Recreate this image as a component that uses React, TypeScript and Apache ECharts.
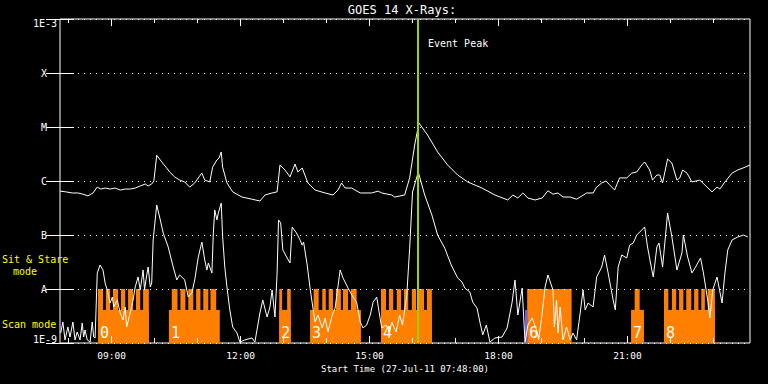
import React, { useEffect, useRef } from 'react';
import * as echarts from 'echarts';

const startTime = '07:48';
const axisEndMin = 963;
const majorTickLabels = ['09:00', '12:00', '15:00', '18:00', '21:00'];
const yTickLabels = ['1E-9', 'A', 'B', 'C', 'M', 'X', '1E-3'];
const eventPeakTime = '16:07';
const xAxisTitle = 'Start Time (27-Jul-11 07:48:00)';
const chartTitle = 'GOES 14 X-Rays:';

// long channel (1-8 A): minutes after start, flux W/m^2
const longMin = [0, 8, 17, 25, 32, 39, 46, 52, 57, 63, 70, 77, 84, 91, 98, 105, 112, 119, 123, 128, 131, 135, 142, 148, 153, 160, 167, 174, 181, 188, 194, 198, 202, 209, 213, 219, 222, 225, 227, 233, 241, 254, 268, 279, 286, 296, 303, 307, 314, 321, 328, 332, 338, 346, 356, 370, 381, 388, 393, 398, 407, 419, 435, 444, 449, 463, 467, 481, 488, 495, 501, 506, 513, 527, 541, 555, 569, 589, 607, 625, 632, 639, 646, 653, 663, 673, 681, 688, 695, 702, 712, 721, 735, 744, 749, 756, 762, 767, 774, 781, 791, 798, 805, 812, 816, 823, 827, 833, 837, 841, 848, 854, 861, 865, 869, 875, 882, 893, 903, 910, 917, 921, 928, 938, 946, 956, 963];
const longFlux = [6.5e-7, 6.3e-7, 6.0e-7, 6.0e-7, 5.7e-7, 5.3e-7, 6.0e-7, 7.7e-7, 7.1e-7, 7.4e-7, 7.1e-7, 7.4e-7, 6.8e-7, 7.1e-7, 7.1e-7, 7.4e-7, 8.1e-7, 8.8e-7, 8.1e-7, 8.8e-7, 1.0e-6, 3.0e-6, 2.25e-6, 1.8e-6, 1.47e-6, 1.19e-6, 1.04e-6, 9.6e-7, 7.7e-7, 9.2e-7, 1.19e-6, 1.4e-6, 1.04e-6, 9.6e-7, 1.8e-6, 2.45e-6, 2.67e-6, 3.45e-6, 1.8e-6, 9.2e-7, 6.3e-7, 5.05e-7, 4.6e-7, 4.26e-7, 5.5e-7, 6.0e-7, 6.3e-7, 1.98e-6, 1.6e-6, 1.19e-6, 2.06e-6, 1.47e-6, 1.74e-6, 9.2e-7, 6.8e-7, 6.0e-7, 5.5e-7, 6.8e-7, 9.2e-7, 7.4e-7, 7.4e-7, 6.0e-7, 6.0e-7, 6.5e-7, 6.0e-7, 5.5e-7, 5.05e-7, 5.5e-7, 1.14e-6, 4.64e-6, 1.19e-5, 9.6e-6, 7.1e-6, 3.45e-6, 1.98e-6, 1.29e-6, 9.6e-7, 7.4e-7, 5.5e-7, 4.45e-7, 5.5e-7, 4.85e-7, 6.0e-7, 4.85e-7, 4.45e-7, 4.85e-7, 6.6e-7, 5.7e-7, 6.0e-7, 5.05e-7, 5.05e-7, 4.6e-7, 6.0e-7, 6.0e-7, 7.7e-7, 9.2e-7, 1.0e-6, 8.5e-7, 6.8e-7, 1.14e-6, 1.14e-6, 1.4e-6, 1.47e-6, 1.98e-6, 2.25e-6, 1.6e-6, 1.04e-6, 1.29e-6, 1.29e-6, 9.2e-7, 2.55e-6, 2.15e-6, 1.04e-6, 1.14e-6, 1.6e-6, 1.4e-6, 9.6e-7, 1.04e-6, 7.7e-7, 6.3e-7, 7.7e-7, 7.1e-7, 9.6e-7, 1.4e-6, 1.6e-6, 1.8e-6, 1.98e-6];

// short channel (0.5-4 A)
const shortMin = [1, 4, 7, 11, 14, 18, 21, 24, 28, 31, 33, 35, 38, 42, 45, 47, 49, 52, 56, 60, 63, 66, 68, 70, 73, 75, 80, 84, 88, 91, 93, 98, 102, 105, 109, 112, 116, 118, 120, 123, 126, 128, 130, 135, 140, 144, 151, 158, 163, 167, 170, 174, 179, 184, 188, 193, 198, 202, 205, 207, 212, 214, 216, 219, 221, 225, 227, 230, 233, 237, 241, 247, 251, 258, 268, 272, 279, 283, 289, 293, 296, 300, 303, 305, 308, 311, 317, 321, 324, 330, 335, 338, 340, 345, 349, 353, 356, 360, 366, 370, 374, 380, 384, 391, 395, 402, 405, 409, 414, 419, 423, 428, 433, 437, 442, 446, 449, 455, 460, 463, 469, 474, 478, 484, 488, 492, 500, 509, 519, 527, 537, 546, 555, 561, 565, 572, 576, 582, 586, 590, 595, 600, 607, 617, 624, 631, 635, 639, 645, 649, 653, 659, 666, 668, 673, 677, 681, 688, 690, 693, 695, 698, 702, 707, 712, 716, 721, 726, 730, 733, 737, 744, 749, 756, 760, 765, 772, 775, 779, 784, 791, 795, 800, 805, 812, 816, 820, 826, 828, 833, 836, 841, 848, 854, 861, 868, 870, 876, 882, 887, 894, 898, 904, 907, 911, 917, 924, 928, 932, 938, 946, 954, 960];
const shortFlux = [1.53e-9, 2.45e-9, 1.14e-9, 1.98e-9, 1.29e-9, 2.45e-9, 1.14e-9, 1.6e-9, 1.14e-9, 2.35e-9, 1.29e-9, 1.74e-9, 1.14e-9, 1.04e-9, 2.45e-9, 1.29e-9, 1.24e-9, 1.98e-8, 2.78e-8, 2.25e-8, 1.29e-8, 9.6e-9, 7.1e-9, 5.5e-9, 7.1e-9, 4.64e-9, 6.25e-9, 3.59e-9, 2.67e-9, 4.64e-9, 1.98e-9, 3.59e-9, 6.25e-9, 1.09e-8, 1.67e-8, 9.6e-9, 2.25e-8, 9.6e-9, 1.47e-8, 2.55e-8, 1.09e-8, 1.29e-8, 8.1e-8, 3.59e-7, 1.9e-7, 1.09e-7, 6.0e-8, 2.55e-8, 1.47e-8, 1.82e-8, 1.67e-8, 1.47e-8, 7.1e-9, 8.4e-9, 1.47e-8, 3.9e-8, 7.4e-8, 3.45e-8, 2.25e-8, 3.03e-8, 1.98e-8, 1.09e-7, 2.9e-7, 1.9e-7, 2.55e-7, 3.9e-7, 9.2e-8, 2.55e-8, 1.09e-8, 4.1e-9, 1.98e-9, 1.53e-9, 1.04e-9, 1.14e-9, 1.24e-9, 1.04e-9, 3.59e-9, 6.25e-9, 3.03e-9, 4.64e-9, 9.6e-9, 3.03e-9, 1.98e-8, 1.9e-7, 1.67e-7, 5.3e-8, 3.75e-8, 3.03e-8, 1.41e-7, 1.09e-7, 8.1e-8, 6.5e-8, 7.4e-8, 2.78e-8, 1.04e-8, 4.44e-9, 2.45e-9, 3.3e-9, 1.9e-9, 2.9e-9, 1.6e-9, 3.3e-9, 4.44e-9, 2.25e-8, 1.6e-8, 1.04e-8, 8.8e-9, 7.1e-9, 5.7e-9, 2.45e-9, 1.9e-9, 2.15e-9, 3.3e-9, 5.7e-9, 7.1e-9, 3.3e-9, 1.9e-9, 2.15e-9, 1.6e-9, 2.45e-9, 1.6e-9, 3.3e-9, 2.15e-9, 7.74e-9, 5.7e-8, 6.25e-7, 1.47e-6, 5.5e-7, 2.35e-7, 1.0e-7, 5.7e-8, 2.78e-8, 1.6e-8, 1.35e-8, 1.04e-8, 8.8e-9, 5.7e-9, 4.44e-9, 2.45e-9, 1.41e-9, 2.15e-9, 1.04e-9, 1.24e-9, 1.29e-9, 1.9e-9, 5.7e-9, 1.47e-8, 3.3e-9, 1.04e-8, 1.04e-9, 2.15e-9, 2.9e-9, 1.6e-9, 1.14e-9, 3.59e-9, 1.09e-8, 1.82e-8, 9.6e-9, 1.98e-9, 6.25e-9, 1.53e-9, 4.64e-9, 1.14e-9, 1.98e-9, 1.14e-9, 1.53e-9, 1.14e-9, 3.59e-9, 9.6e-9, 4.1e-9, 5.5e-9, 4.64e-9, 1.67e-8, 2.55e-8, 4.26e-8, 1.98e-8, 6.25e-9, 4.1e-9, 2.55e-8, 4.26e-8, 3.75e-8, 6.5e-8, 7.1e-8, 1.0e-7, 1.24e-7, 1.41e-7, 6.0e-8, 2.25e-8, 1.67e-8, 6.0e-8, 7.1e-8, 2.55e-8, 2.55e-7, 9.2e-8, 2.25e-8, 4.64e-8, 1.0e-7, 3.9e-8, 1.98e-8, 2.55e-8, 3.75e-8, 1.98e-8, 6.25e-9, 2.9e-9, 9.6e-9, 1.67e-8, 5.5e-9, 1.98e-8, 5.3e-8, 8.1e-8, 9.2e-8, 1.0e-7, 9.2e-8];

// instrument mode bars: [start minute, end minute, top flux]
const SIT_STARE = 1e-8;
const SCAN = 4.1e-9;
const orangeRects: number[][] = [
  [53, 124, SCAN], [53, 60, SIT_STARE], [64, 70, SIT_STARE], [74, 81, SIT_STARE], [85, 91, SIT_STARE], [95, 102, SIT_STARE], [106, 112, SIT_STARE], [116, 124, SIT_STARE],
  [152, 223, SCAN], [156, 164, SIT_STARE], [168, 175, SIT_STARE], [179, 186, SIT_STARE], [190, 196, SIT_STARE], [200, 207, SIT_STARE], [210, 218, SIT_STARE],
  [306, 322, SCAN], [306, 310, SIT_STARE], [317, 322, SIT_STARE],
  [349, 420, SCAN], [354, 361, SIT_STARE], [366, 371, SIT_STARE], [375, 381, SIT_STARE], [385, 392, SIT_STARE], [395, 402, SIT_STARE], [406, 414, SIT_STARE],
  [448, 519, SCAN], [448, 455, SIT_STARE], [459, 465, SIT_STARE], [470, 476, SIT_STARE], [480, 486, SIT_STARE], [491, 497, SIT_STARE], [500, 508, SIT_STARE], [512, 519, SIT_STARE],
  [652, 714, SIT_STARE],
  [797, 815, SCAN], [802, 809, SIT_STARE],
  [843, 914, SCAN], [843, 849, SIT_STARE], [854, 860, SIT_STARE], [864, 870, SIT_STARE], [874, 881, SIT_STARE], [885, 891, SIT_STARE], [895, 900, SIT_STARE], [904, 914, SIT_STARE],
];
const blueRects: number[][] = [[649, 652, SCAN]];
const blockLabelStart = [53, 152, 306, 349, 448, 652, 797, 843];
const blockLabels = ['0', '1', '2', '3', '4', '6', '7', '8'];

const MONO = '"DejaVu Sans Mono", monospace';
const Y_MIN = 1e-9;

const toMin = (t: string) => {
  const [h, m] = t.split(':').map(Number);
  return h * 60 + m;
};
const startAbs = toMin(startTime);
const majorTicks = majorTickLabels.map((t) => toMin(t) - startAbs);
const minorTicks: number[] = [];
for (let h = Math.ceil(startAbs / 60); (h * 60 - startAbs) <= axisEndMin; h++) minorTicks.push(h * 60 - startAbs);
const eventMin = toMin(eventPeakTime) - startAbs;

const fmtTime = (v: number) => {
  const t = Math.round(v + startAbs);
  const hh = Math.floor(t / 60) % 24;
  const mm = t % 60;
  return `${String(hh).padStart(2, '0')}:${String(mm).padStart(2, '0')}`;
};

export default function App() {
  const ref = useRef<HTMLDivElement>(null);
  useEffect(() => {
    if (!ref.current) return;
    const chart = echarts.init(ref.current, null, { renderer: 'svg' });
    const white = '#ffffff';
    const xBase = {
      type: 'value', min: 0, max: axisEndMin, z: 5,
      axisLine: { show: false, onZero: false },
      splitLine: { show: false },
    };
    const rectRender = (color: string) => (params: any, api: any) => {
      const s = api.value(0), e = api.value(1), top = api.value(2);
      const p1 = api.coord([s, top]);
      const p2 = api.coord([e, Y_MIN]);
      return {
        type: 'rect',
        shape: { x: p1[0], y: p1[1], width: p2[0] - p1[0], height: p2[1] - p1[1] },
        style: { fill: color },
      };
    };
    const option: any = {
      animation: false,
      backgroundColor: '#000',
      grid: { left: 60, right: 18, top: 19, bottom: 41, show: true, borderColor: white, borderWidth: 1 },
      xAxis: [
        {
          ...xBase, position: 'bottom',
          axisTick: { inside: true, length: 7, customValues: majorTicks, lineStyle: { color: white } },
          axisLabel: { customValues: majorTicks, formatter: fmtTime, color: white, fontFamily: MONO, fontSize: 9.5, margin: 7 },
          name: xAxisTitle, nameLocation: 'middle', nameGap: 20,
          nameTextStyle: { color: white, fontFamily: MONO, fontSize: 9 },
        },
        { ...xBase, position: 'bottom', axisTick: { inside: true, length: 5, customValues: minorTicks, lineStyle: { color: white } }, axisLabel: { show: false } },
        { ...xBase, position: 'top', axisTick: { inside: true, length: 7, customValues: majorTicks, lineStyle: { color: white } }, axisLabel: { show: false } },
        { ...xBase, position: 'top', axisTick: { inside: true, length: 4, customValues: minorTicks, lineStyle: { color: white } }, axisLabel: { show: false } },
      ],
      yAxis: [
        {
          type: 'log', logBase: 10, min: Y_MIN, max: 1e-3, splitNumber: 6, position: 'left', z: 5,
          axisLine: { show: false },
          axisTick: { inside: true, length: 14, lineStyle: { color: white } },
          splitLine: { show: true, lineStyle: { color: white, type: [1, 5], width: 1 } },
          axisLabel: {
            margin: 3,
            formatter: (v: number) => {
              const idx = Math.round(Math.log10(v)) + 9;
              const t = yTickLabels[idx] ?? '';
              if (idx === 0) return `{lo|${t}}`;
              if (idx === yTickLabels.length - 1) return `{hi|${t}}`;
              return `{l|${t}}`;
            },
            rich: {
              lo: { fontFamily: MONO, fontSize: 10, color: white, padding: [0, 0, 8, 0] },
              hi: { fontFamily: MONO, fontSize: 10, color: white, padding: [8, 0, 0, 0] },
              l: { fontFamily: MONO, fontSize: 10, color: white, padding: [0, 10, 0, 0] },
            },
          },
        },
        {
          type: 'log', logBase: 10, min: Y_MIN, max: 1e-3, splitNumber: 6, position: 'right', z: 5,
          axisLine: { show: false },
          axisTick: { inside: true, length: 14, lineStyle: { color: white } },
          splitLine: { show: false },
          axisLabel: { show: false },
        },
      ],
      graphic: [
        { type: 'text', x: 402, y: 10, style: { text: chartTitle, fill: white, font: `12px ${MONO}`, align: 'center', verticalAlign: 'middle' } },
        { type: 'text', x: 428, y: 43, z: 10, style: { text: 'Event Peak', fill: white, font: `10px ${MONO}`, align: 'left', verticalAlign: 'middle' } },
        { type: 'text', x: 2, y: 259, style: { text: 'Sit & Stare', fill: '#ffff00', font: `10px ${MONO}`, align: 'left', verticalAlign: 'middle' } },
        { type: 'text', x: 13, y: 271, style: { text: 'mode', fill: '#ffff00', font: `10px ${MONO}`, align: 'left', verticalAlign: 'middle' } },
        { type: 'text', x: 2, y: 324, style: { text: 'Scan mode', fill: '#ffff00', font: `10px ${MONO}`, align: 'left', verticalAlign: 'middle' } },
      ],
      series: [
        {
          type: 'custom', name: 'mode', z: 1, silent: true,
          renderItem: rectRender('#ff8000'),
          encode: { x: [0, 1], y: 2 },
          data: orangeRects,
        },
        {
          type: 'custom', name: 'mode2', z: 1, silent: true,
          renderItem: rectRender('#6464ff'),
          encode: { x: [0, 1], y: 2 },
          data: blueRects,
        },
        {
          type: 'custom', name: 'labels', z: 2, silent: true,
          renderItem: (params: any, api: any) => {
            const p = api.coord([api.value(0), Y_MIN]);
            return {
              type: 'text', x: p[0] + 2, y: p[1] - 10,
              style: { text: blockLabels[params.dataIndex], fill: white, font: `15px ${MONO}`, align: 'left', verticalAlign: 'middle' },
            };
          },
          encode: { x: 0, y: 1 },
          data: blockLabelStart.map((s) => [s, Y_MIN]),
        },
        {
          type: 'line', name: 'short', z: 3, showSymbol: false, symbol: 'none',
          lineStyle: { color: white, width: 1 },
          data: shortMin.map((m, i) => [m, shortFlux[i]]),
        },
        {
          type: 'line', name: 'long', z: 3, showSymbol: false, symbol: 'none',
          lineStyle: { color: white, width: 1 },
          data: longMin.map((m, i) => [m, longFlux[i]]),
          markLine: {
            silent: true, symbol: ['none', 'none'], label: { show: false },
            lineStyle: { color: '#a0d000', width: 2, type: 'solid' },
            data: [{ xAxis: eventMin }],
          },
        },
      ],
    };
    chart.setOption(option);
    return () => chart.dispose();
  }, []);
  return (
    <div
      ref={ref}
      style={{ position: 'absolute', left: 0, top: 0, width: 768, height: 384, background: '#000' }}
    />
  );
}
